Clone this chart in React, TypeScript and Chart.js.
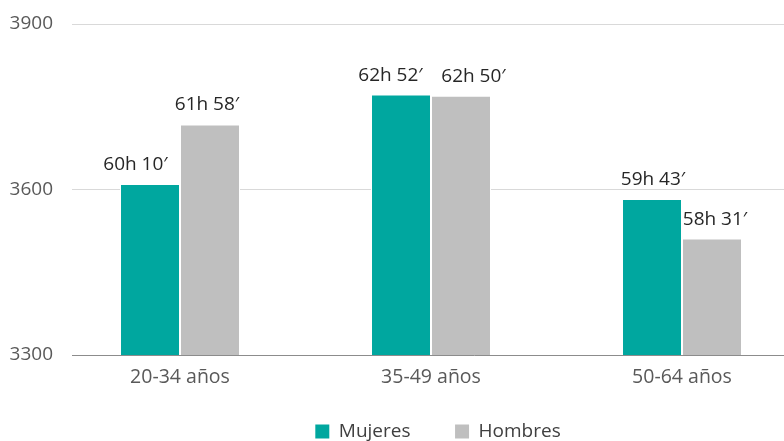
import React, { useEffect, useRef } from "react";
import { Chart, registerables } from "chart.js";

Chart.register(...registerables);

const categories = ["20-34 años", "35-49 años", "50-64 años"];
const seriesNames = ["Mujeres", "Hombres"];
// minutes
const mujeres = [3610, 3772, 3583];
const hombres = [3718, 3770, 3511];
const yTicks = [3300, 3600, 3900];
const colors = ["#00a79f", "#bfbfbf"];

const FONT = "'Open Sans', 'Noto Sans', sans-serif";
const FS = 19;

// horizontal nudges of the value labels (px), as placed in the original
const labelDx = [
  [-14.5, -10.5, 1],
  [-3, 12.5, 3],
];

function fmt(v: number): string {
  const h = Math.floor(v / 60);
  const m = v % 60;
  return `${h}h ${m}′`;
}

const labelPlugin = {
  id: "barLabels",
  afterDatasetsDraw(chart: any) {
    const ctx = chart.ctx;
    ctx.save();
    ctx.font = `${FS}px ${FONT}`;
    ctx.fillStyle = "#262626";
    ctx.textAlign = "center";
    ctx.textBaseline = "middle";
    chart.data.datasets.forEach((ds: any, di: number) => {
      const meta = chart.getDatasetMeta(di);
      meta.data.forEach((el: any, i: number) => {
        const v = ds.data[i].y;
        ctx.fillText(fmt(v), el.x + labelDx[di][i], el.y - 19.5);
      });
    });
    ctx.restore();
  },
};

export default function App() {
  const ref = useRef<HTMLCanvasElement>(null);
  useEffect(() => {
    document.body.style.margin = "0";
    document.body.style.overflow = "hidden";
    const chart = new Chart(ref.current!, {
      type: "bar",
      data: {
        datasets: [
          {
            label: seriesNames[0],
            data: mujeres.map((v, i) => ({ x: i, y: v })),
            backgroundColor: colors[0],
            borderColor: "#ffffff",
            borderWidth: 1,
          },
          {
            label: seriesNames[1],
            data: hombres.map((v, i) => ({ x: i, y: v })),
            backgroundColor: colors[1],
            borderColor: "#ffffff",
            borderWidth: 1,
          },
        ],
      },
      plugins: [labelPlugin],
      options: {
        responsive: false,
        animation: false,
        categoryPercentage: 0.478,
        barPercentage: 1,
        layout: { padding: { top: 24, left: 0, right: 0, bottom: 0 } },
        plugins: {
          tooltip: { enabled: false },
          legend: {
            position: "bottom",
            labels: {
              boxWidth: 14,
              boxHeight: 14,
              padding: 10,
              color: "#404040",
              font: { size: FS, family: FONT },
              generateLabels: (chart: any) => {
                const items = Chart.defaults.plugins.legend.labels.generateLabels(chart);
                items.forEach((it: any, i: number) => {
                  it.lineWidth = 0;
                  if (i < items.length - 1) it.text = it.text + "       ";
                });
                return items;
              },
            },
          },
        },
        scales: {
          x: {
            type: "linear",
            offset: false,
            min: (72 - 180) / 251,
            max: (876 - 180) / 251,
            afterBuildTicks: (scale: any) => {
              scale.ticks = categories.map((_, i) => ({ value: i }));
            },
            afterFit: (scale: any) => {
              scale.height = 57;
            },
            grid: { display: false, drawTicks: false, offset: false },
            border: { display: true, color: "#8c8c8c", width: 1 },
            ticks: {
              color: "#595959",
              font: { size: 19.5, family: FONT },
              padding: 11,
              maxRotation: 0,
              autoSkip: false,
              callback: (v: any) => categories[v] ?? "",
            },
          },
          y: {
            min: yTicks[0],
            max: yTicks[yTicks.length - 1],
            afterBuildTicks: (scale: any) => {
              scale.ticks = yTicks.map((v) => ({ value: v }));
            },
            afterFit: (scale: any) => {
              scale.width = 72;
              scale.paddingTop = 0;
              scale.paddingBottom = 0;
            },
            grid: { color: "#d9d9d9", drawTicks: false },
            border: { display: false },
            ticks: {
              color: "#595959",
              font: { size: FS, family: FONT },
              padding: 19,
              callback: (v: any) => String(v),
            },
          },
        },
      },
    } as any);
    return () => chart.destroy();
  }, []);
  return (
    <div style={{ position: "relative", width: 784, height: 441, overflow: "hidden" }}>
      <canvas ref={ref} width={876} height={451} style={{ display: "block" }} />
    </div>
  );
}
